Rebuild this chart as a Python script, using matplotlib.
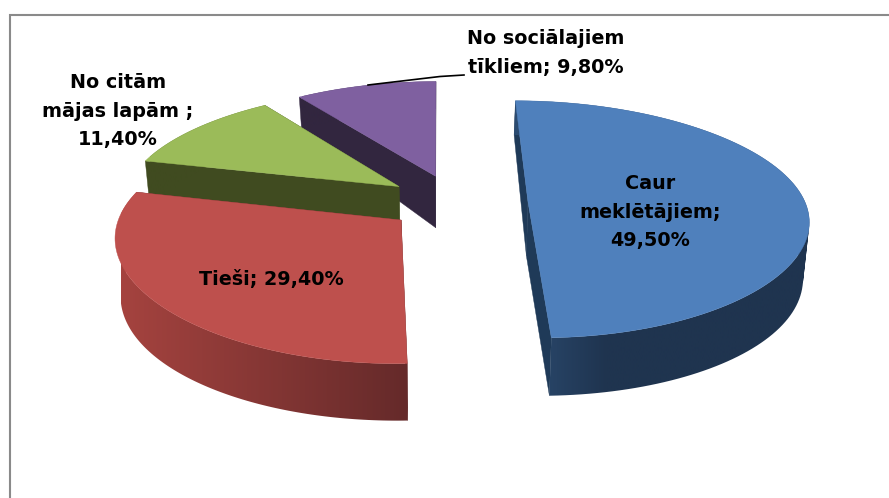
import numpy as np
import matplotlib
matplotlib.use('Agg')
import matplotlib.pyplot as plt
from matplotlib.patches import Polygon
from matplotlib.path import Path
from matplotlib.colors import to_rgb

categories = ['Caur\nmeklētājiem;', 'Tieši;', 'No citām\nmājas lapām ;', 'No sociālajiem\ntīkliem;']
values = [49.5, 29.4, 11.4, 9.8]
separators = ['\n', ' ', '\n', ' ']

top_colors = ['#4F80BC', '#BE504D', '#9BBB59', '#7F60A0']
face_colors = ['#1F3A58', '#5F2A2A', '#404B20', '#32263F']
wall_left = ['#2C4C72', '#A5433F', '#404B20', '#32263F']
wall_right = ['#1F344F', '#652A2A', '#404B20', '#32263F']

# projection of the pie plane to pixels
X0, Y0 = 438, 202
CX, CY, EXPLODE_X, EXPLODE_Y = 277, 116, 71, 28
PERSP_X, PERSP_Y = 0.139, 0.15
SHRINK = 0.983
CENTER_U = 19 / CX


def wall_height(v):
    return 54.6 + 11.8 * v - 8.4 * v ** 2


def project(u, v, low=False):
    x = CX * u * (1 + PERSP_X * v)
    y = Y0 + CY * v / (1 - PERSP_Y * v)
    if low:
        return X0 + x * SHRINK, y + wall_height(v)
    return X0 + x, y


def wall_path(top, low):
    # one quad per arc step, all wound the same way so none of them cancel
    quads = []
    for k in range(len(top) - 1):
        q = np.array([top[k], top[k + 1], low[k + 1], low[k], top[k]])
        area = np.sum(q[:-1, 0] * q[1:, 1] - q[1:, 0] * q[:-1, 1])
        quads.append(Path(q if area > 0 else q[::-1]))
    return Path.make_compound_path(*quads)


fig = plt.figure(figsize=(8.89, 4.98), dpi=100)
ax = fig.add_axes([0, 0, 1, 1])
ax.set_autoscale_on(False)
ax.set_xlim(0, 889)
ax.set_ylim(498, 0)
ax.axis('off')

ax.plot([10, 10, 889], [498, 15, 15], color='#8A8A8A', lw=1.5, solid_joinstyle='miter')

shares = np.array(values) / sum(values)
stops = np.concatenate([[0], np.cumsum(shares)]) * 2 * np.pi

# back wedges first so the front ones cover them
for i in [3, 2, 1, 0]:
    z = (3 - i) * 3
    a0, a1 = stops[i], stops[i + 1]
    mid = (a0 + a1) / 2
    du = CENTER_U + EXPLODE_X / CX * np.sin(mid)
    dv = -EXPLODE_Y / CY * np.cos(mid)
    th = np.linspace(a0, a1, 120)
    us = du + np.sin(th)
    vs = dv - np.cos(th)
    top = np.array(project(us, vs)).T
    low = np.array(project(us, vs, low=True)).T
    apex = project(du, dv)
    apex_low = project(du, dv, low=True)

    for k in [0, -1]:
        ax.add_patch(Polygon([apex, top[k], low[k], apex_low], fc=face_colors[i],
                             ec=face_colors[i], lw=0.3, zorder=z + 1))

    # outer wall, shaded from left to right
    xmin, xmax = low[:, 0].min(), top[:, 0].max()
    f = np.linspace(0, 1, 256)
    if i == 0:
        f = np.minimum(f * 3.2, 1)  # blue wall reaches its dark tone early
    c0, c1 = np.array(to_rgb(wall_left[i])), np.array(to_rgb(wall_right[i]))
    shade = c0 + (c1 - c0) * f[:, None]
    img = ax.imshow(shade[None, :, :], extent=(xmin, xmax, 498, 0), aspect='auto',
                    zorder=z + 2, interpolation='bilinear')
    img.set_clip_path(wall_path(top, low), transform=ax.transData)

    ax.add_patch(Polygon(np.vstack([[apex], top]), fc=top_colors[i], ec=top_colors[i],
                         lw=0.3, zorder=z + 3))

ax.plot([368, 440, 464], [85, 76.5, 75], color='black', lw=1.2, zorder=20)

label_pos = [(650, 212), (271, 279), (118, 111), (546, 53)]
for name, val, sep, pos in zip(categories, values, separators, label_pos):
    txt = name + sep + f'{val:.2f}%'.replace('.', ',')
    ax.text(pos[0], pos[1], txt, ha='center', va='center', fontsize=13.8, fontweight='bold',
            family='DejaVu Sans', color='black', linespacing=1.65, zorder=25)

fig.savefig('out.png', dpi=100)
